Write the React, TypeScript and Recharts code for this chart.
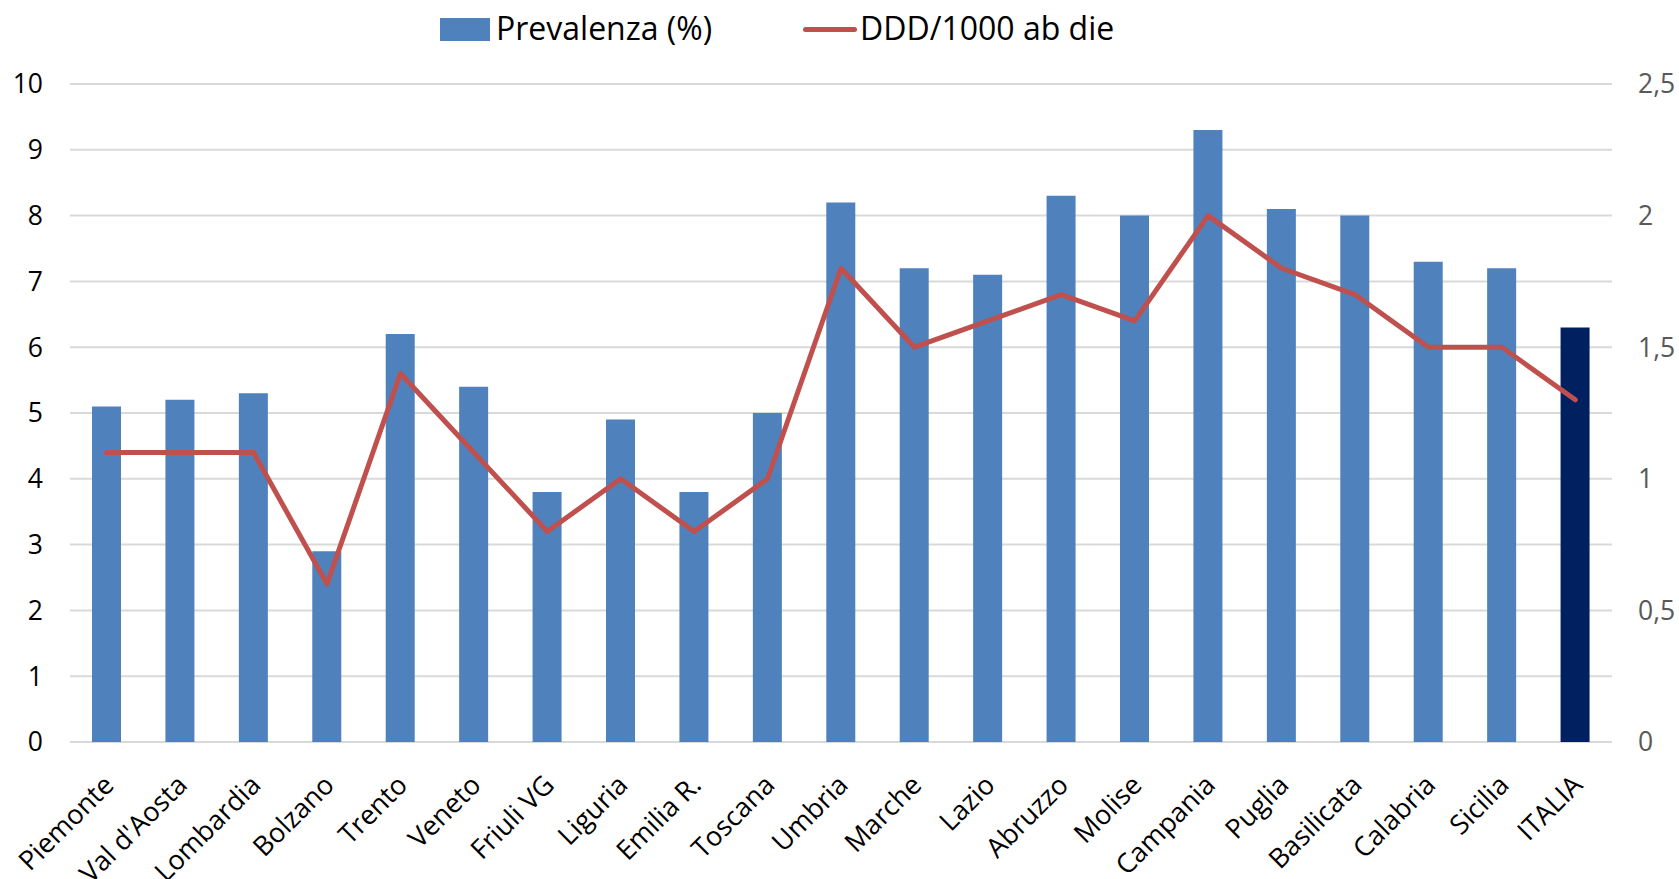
import React from 'react';
import { ComposedChart, Bar, Line, XAxis, YAxis, CartesianGrid, Legend, Cell } from 'recharts';

const regions = ['Piemonte', "Val d'Aosta", 'Lombardia', 'Bolzano', 'Trento', 'Veneto', 'Friuli VG', 'Liguria', 'Emilia R.', 'Toscana', 'Umbria', 'Marche', 'Lazio', 'Abruzzo', 'Molise', 'Campania', 'Puglia', 'Basilicata', 'Calabria', 'Sicilia', 'ITALIA'];
const prevalenza = [5.1, 5.2, 5.3, 2.9, 6.2, 5.4, 3.8, 4.9, 3.8, 5.0, 8.2, 7.2, 7.1, 8.3, 8.0, 9.3, 8.1, 8.0, 7.3, 7.2, 6.3];
const ddd = [1.1, 1.1, 1.1, 0.6, 1.4, 1.1, 0.8, 1.0, 0.8, 1.0, 1.8, 1.5, 1.6, 1.7, 1.6, 2.0, 1.8, 1.7, 1.5, 1.5, 1.3];
const leftTicks = [0, 1, 2, 3, 4, 5, 6, 7, 8, 9, 10];
const rightTicks = [0, 0.5, 1, 1.5, 2, 2.5];
const seriesNames = { bar: 'Prevalenza (%)', line: 'DDD/1000 ab die' };

const data = regions.map((name, i) => ({ name, prev: prevalenza[i], ddd: ddd[i] }));

const FONT = '"Open Sans", "Noto Sans", sans-serif';
const BAR_COLOR = '#4F81BD';
const ITALIA_COLOR = '#002060';
const LINE_COLOR = '#C0504D';

const CatTick = (props: any) => {
  const { x, y, payload } = props;
  return (
    <g transform={`translate(${x + 2},${y + 38}) rotate(-45)`}>
      <text x={0} y={0} dy="0.35em" textAnchor="end" fill="#000" fontSize={27} fontFamily={FONT}>
        {payload.value}
      </text>
    </g>
  );
};

const LegendContent = () => (
  <div style={{ position: 'relative', width: 1679, height: 60, fontFamily: FONT, fontSize: 32, color: '#000' }}>
    <div style={{ position: 'absolute', left: 440, top: 18, width: 50, height: 23, background: BAR_COLOR }} />
    <div style={{ position: 'absolute', left: 496, top: 6, lineHeight: '44px', whiteSpace: 'nowrap' }}>{seriesNames.bar}</div>
    <div style={{ position: 'absolute', left: 803, top: 27, width: 54, height: 5, borderRadius: 3, background: LINE_COLOR }} />
    <div style={{ position: 'absolute', left: 860, top: 6, lineHeight: '44px', whiteSpace: 'nowrap' }}>{seriesNames.line}</div>
  </div>
);

export default function App() {
  return (
    <div style={{ position: 'absolute', left: 0, top: 0, width: 1679, height: 879, background: '#fff' }}>
      <ComposedChart width={1679} height={879} data={data} margin={{ top: 24, right: 0, bottom: 0, left: 0 }}>
        <CartesianGrid yAxisId="left" vertical={false} stroke="#D9D9D9" strokeWidth={2} />
        <XAxis dataKey="name" interval={0} tickLine={false} axisLine={false} tickSize={0} tickMargin={0} height={137} tick={<CatTick />} />
        <YAxis yAxisId="left" orientation="left" domain={[0, 10]} ticks={leftTicks} width={70} tickLine={false} axisLine={false} tickSize={0} tickMargin={27}
          tick={{ fill: '#000', fontSize: 26.5, fontFamily: FONT }} interval={0} />
        <YAxis yAxisId="right" orientation="right" domain={[0, 2.5]} ticks={rightTicks} width={67} tickLine={false} axisLine={false} tickSize={0} tickMargin={26}
          tick={{ fill: '#595959', fontSize: 26.5, fontFamily: FONT, textAnchor: 'start' }} interval={0}
          tickFormatter={(v: number) => String(v).replace('.', ',')} />
        <Legend verticalAlign="top" height={60} wrapperStyle={{ top: 0, left: 0 }} content={<LegendContent />} />
        <Bar yAxisId="left" dataKey="prev" name={seriesNames.bar} barSize={29} fill={BAR_COLOR} isAnimationActive={false}>
          {data.map((d, i) => (
            <Cell key={i} fill={d.name === 'ITALIA' ? ITALIA_COLOR : BAR_COLOR} />
          ))}
        </Bar>
        <Line yAxisId="right" dataKey="ddd" name={seriesNames.line} stroke={LINE_COLOR} strokeWidth={5} dot={false} strokeLinejoin="round" strokeLinecap="round" isAnimationActive={false} />
      </ComposedChart>
    </div>
  );
}
